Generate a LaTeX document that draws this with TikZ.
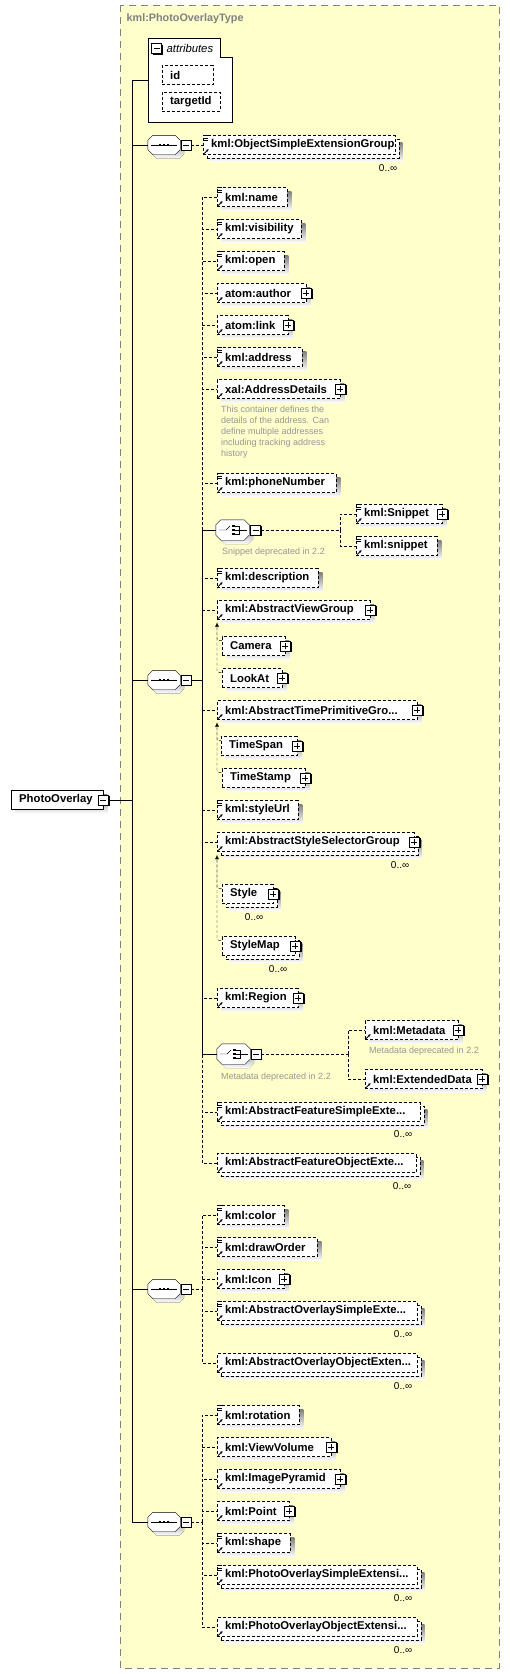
\documentclass[tikz,border=0pt]{standalone}
\usepackage{fontspec}
\setmainfont{Liberation Sans}
\usetikzlibrary{shadows,arrows.meta}
\pgfdeclarelayer{back}
\pgfdeclarelayer{shadowlayer}
\pgfsetlayers{back,shadowlayer,main}
\hyphenpenalty=10000
\exhyphenpenalty=10000
\definecolor{paper}{RGB}{255,255,204}
\definecolor{frame}{RGB}{128,128,128}
\definecolor{shade}{RGB}{192,192,192}
\definecolor{note}{RGB}{150,150,150}
\newcommand\octpath[1]{([xshift=5pt]#1.north west) -- ([xshift=-5pt]#1.north east) -- ([yshift=-5pt]#1.north east) -- ([yshift=5pt]#1.south east) -- ([xshift=-5pt]#1.south east) -- ([xshift=5pt]#1.south west) -- ([yshift=5pt]#1.south west) -- ([yshift=-5pt]#1.north west) -- cycle}
\tikzset{
	odash/.style={dash pattern=on 3pt off 2pt},
	elem/.style={draw, odash, fill=white, anchor=west, minimum height=19pt,
		text width=#1-16pt, inner xsep=8pt, inner ysep=2pt, align=left,
		font=\bfseries\fontsize{11.3}{13}\selectfont},
	multi/.style={elem=#1,
		general shadow={shadow xshift=3.5pt, shadow yshift=-3.5pt, fill=white, draw=black, odash}},
	minusbox/.style={draw, solid, fill=white, minimum size=10pt, inner sep=0pt,
		drop shadow={shadow xshift=1.2pt, shadow yshift=-1.2pt, fill=black, opacity=1},
		path picture={\draw ([xshift=2pt]path picture bounding box.west) -- ([xshift=-2pt]path picture bounding box.east);}},
	plusbox/.style={draw, solid, fill=white, minimum size=10pt, inner sep=0pt,
		drop shadow={shadow xshift=1.2pt, shadow yshift=-1.2pt, fill=black, opacity=1},
		path picture={\draw ([xshift=2pt]path picture bounding box.west) -- ([xshift=-2pt]path picture bounding box.east);
			\draw ([yshift=2pt]path picture bounding box.south) -- ([yshift=-2pt]path picture bounding box.north);}},
	compositor/.style={minimum width=32pt, minimum height=19pt, inner sep=0pt},
	occ/.style={anchor=east, inner sep=0pt, font=\fontsize{10}{12}\selectfont},
	note/.style={inner sep=0pt, text=note, font=\fontsize{9}{11}\selectfont}
}
\begin{document}
\begin{tikzpicture}[x=1pt, y=-1pt, line width=0.9pt]
	\useasboundingbox (0,0) rectangle (510,1674);
	% complex type frame
	\begin{pgfonlayer}{back}
		\draw[frame, line width=1pt, dash pattern=on 7pt off 5pt, fill=paper] (120,5) rectangle (499,1668);
	\end{pgfonlayer}
	\node[anchor=west, inner sep=0pt, text=frame, font=\bfseries\fontsize{10.8}{13}\selectfont] (ttl) at (126.5,19) {kml:PhotoOverlayType};

	% attributes
	\draw[fill=white] (148,38) -- (220.5,38) -- (220.5,57) -- (232,57) -- (232,122) -- (148,122) -- cycle;
	\node[minusbox] (atm) at (156.5,48.5) {};
	\node[anchor=west, inner sep=0pt, font=\itshape\fontsize{11.3}{13}\selectfont] (atl) at (166.5,48.5) {attributes};
	\node[elem=51] (aid) at (162,75) {id};
	\node[elem=58] (atg) at (162,101.7) {targetId};
	\coordinate (attr) at (148,80);

	% root element
	\node[elem=92, solid] (po) at (11,800) {PhotoOverlay};
	\node[minusbox] (pom) at (po.east) {};
	\coordinate (tr) at (132.5,800);

	% sequences and choices
	\node[compositor] (sq1) at (164,145) {};
	\node[compositor] (sq2) at (164,680) {};
	\node[compositor] (sq3) at (164,1289) {};
	\node[compositor] (sq4) at (164,1522) {};
	\node[compositor, minimum width=33pt, minimum height=20pt] (ch1) at (232.5,530) {};
	\node[compositor, minimum width=33pt, minimum height=20pt] (ch2) at (233.5,1054) {};
	\foreach \s in {sq1,sq2,sq3,sq4,ch1,ch2} {
		\fill[shade, transform canvas={shift={(4pt,-4pt)}}] \octpath{\s};
		\draw[fill=white] \octpath{\s};
	}
	\node[minusbox] (sq1m) at (186,145) {};
	\node[minusbox] (sq2m) at (186,680) {};
	\node[minusbox] (sq3m) at (186,1289) {};
	\node[minusbox] (sq4m) at (186,1522) {};
	\node[minusbox] (ch1m) at (255.5,530) {};
	\node[minusbox] (ch2m) at (256,1054) {};
	\foreach \s in {sq1,sq2,sq3,sq4} {
		\draw ([xshift=3pt]\s.west) -- ([xshift=-3pt]\s.east);
		\foreach \d in {-4,0,4}
			\fill ([xshift=\d pt]\s.center) +(-1.3pt,-1.3pt) rectangle +(1.3pt,1.3pt);
	}
	\foreach \c in {ch1,ch2} {
		\draw ([xshift=-13.5pt]\c.center) -- ++(7pt,0pt) -- ++(4pt,4pt);
		\foreach \k in {-4,0,4}
			\fill ([shift={(1pt,\k pt)}]\c.center) +(-1.2pt,-1.2pt) rectangle +(1.2pt,1.2pt);
		\draw ([shift={(2.5pt,4pt)}]\c.center) -| ([shift={(6.8pt,-4pt)}]\c.center) -- ++(-4.3pt,0pt);
		\draw ([xshift=2.5pt]\c.center) -- ([xshift=14pt]\c.center);
	}

	% first sequence
	\node[multi=192] (o1) at (203,145) {kml:ObjectSimpleExtensionGroup};

	% second sequence
	\node[elem=70] (e1) at (217,197) {kml:name};
	\node[elem=84] (e2) at (217,229) {kml:visibility};
	\node[elem=67] (e3) at (217,261) {kml:open};
	\node[elem=89] (e4) at (217,293) {atom:author};
	\node[elem=71] (e5) at (217,325) {atom:link};
	\node[elem=85] (e6) at (217,357) {kml:address};
	\node[elem=123] (e7) at (217,389) {xal:AddressDetails};
	\node[note, anchor=north west, align=left] (e7c) at (221,405.5) {This container defines the\\details of the address. Can\\define multiple addresses\\including tracking address\\history};
	\node[elem=119] (e8) at (217,483) {kml:phoneNumber};
	\node[elem=86] (sn1) at (356,514) {kml:Snippet};
	\node[elem=81] (sn2) at (356,546) {kml:snippet};
	\node[note, anchor=west] (ch1c) at (222,552) {Snippet deprecated in 2.2};
	\node[elem=101] (e9) at (217,578) {kml:description};
	\node[elem=153] (e10) at (217,610) {kml:AbstractViewGroup};
	\node[elem=63] (s1) at (222,646) {Camera};
	\node[elem=60] (s2) at (222,678) {LookAt};
	\node[elem=200] (e11) at (217,710) {kml:AbstractTimePrimitiveGro...};
	\node[elem=76] (s3) at (221,746) {TimeSpan};
	\node[elem=83] (s4) at (222,778) {TimeStamp};
	\node[elem=81] (e12) at (217,810) {kml:styleUrl};
	\node[multi=197] (e13) at (217,842) {kml:AbstractStyleSelectorGroup};
	\node[multi=51] (s5) at (222,894) {Style};
	\node[multi=73] (s6) at (222,946) {StyleMap};
	\node[elem=81] (e14) at (217,998) {kml:Region};
	\node[elem=93] (md1) at (365,1030) {kml:Metadata};
	\node[note, anchor=west] (md1c) at (369,1051) {Metadata deprecated in 2.2};
	\node[elem=117] (md2) at (365,1079) {kml:ExtendedData};
	\node[note, anchor=west] (ch2c) at (221,1077) {Metadata deprecated in 2.2};
	\node[multi=203] (e15) at (217,1112) {kml:AbstractFeatureSimpleExte...};
	\node[multi=199] (e16) at (217,1163) {kml:AbstractFeatureObjectExte...};

	% third sequence
	\node[elem=67] (f1) at (217,1215) {kml:color};
	\node[elem=100] (f2) at (217,1247) {kml:drawOrder};
	\node[elem=67] (f3) at (217,1279) {kml:Icon};
	\node[multi=200] (f4) at (217,1311) {kml:AbstractOverlaySimpleExte...};
	\node[multi=200] (f5) at (217,1363) {kml:AbstractOverlayObjectExten...};

	% fourth sequence
	\node[elem=82] (g1) at (217,1415) {kml:rotation};
	\node[elem=114] (g2) at (217,1447) {kml:ViewVolume};
	\node[elem=123] (g3) at (217,1479) {kml:ImagePyramid};
	\node[elem=72] (g4) at (217,1511) {kml:Point};
	\node[elem=73] (g5) at (217,1543) {kml:shape};
	\node[multi=200] (g6) at (217,1575) {kml:PhotoOverlaySimpleExtensi...};
	\node[multi=200] (g7) at (217,1627) {kml:PhotoOverlayObjectExtensi...};

	% shadows
	\begin{pgfonlayer}{shadowlayer}
		\foreach \n in {aid,atg,po,e1,e2,e3,e4,e5,e6,e7,e8,sn1,sn2,e9,e10,s1,s2,e11,s3,s4,e12,e14,md1,md2,f1,f2,f3,g1,g2,g3,g4,g5}
			\fill[shade] ([shift={(4pt,-4pt)}]\n.south west) rectangle ([shift={(4pt,-4pt)}]\n.north east);
		\foreach \n in {o1,e13,s5,s6,e15,e16,f4,f5,g6,g7}
			\fill[shade] ([shift={(7pt,-7pt)}]\n.south west) rectangle ([shift={(7pt,-7pt)}]\n.north east);
	\end{pgfonlayer}

	% occurrences
	\node[occ] (o1n) at ([xshift=2pt,yshift=-23pt]o1.east) {0..∞};
	\node[occ] (e13n) at ([xshift=-5pt,yshift=-23pt]e13.east) {0..∞};
	\node[occ] (s5n) at ([xshift=-10pt,yshift=-23pt]s5.east) {0..∞};
	\node[occ] (s6n) at ([xshift=-8pt,yshift=-23pt]s6.east) {0..∞};
	\node[occ] (e15n) at ([xshift=-8pt,yshift=-22pt]e15.east) {0..∞};
	\foreach \n in {e16,f4,f5,g6,g7}
		\node[occ] (\n n) at ([xshift=-5pt,yshift=-23pt]\n.east) {0..∞};

	% icons
	\foreach \n in {e4,e5,e7,sn1,e10,s1,s2,e11,s3,s4,e13,s5,s6,e14,md1,md2,f3,g2,g3,g4}
		\node[plusbox] (\n-p) at (\n.east) {};
	\foreach \n in {o1,e1,e2,e3,e6,e8,sn1,sn2,e9,e12,e15,f1,f2,f4,g1,g5,g6}
		\foreach \k in {0.5,2.7,4.9}
			\draw[solid, line width=0.8pt] ([yshift=-\k pt]\n.north west) -- ++(5pt,0pt);
	\foreach \n in {o1,e1,e2,e3,e4,e5,e6,e7,e8,sn1,sn2,e9,e10,e11,e12,e13,e14,md1,md2,e15,e16,f1,f2,f3,f4,f5,g1,g2,g3,g4,g5,g6,g7}
		\draw[solid, line width=0.9pt, -{Latex[length=2.6pt,width=2.6pt]}] ([shift={(1.2pt,1.2pt)}]\n.south west) -- ++(4.5pt,4.5pt);

	% trunk
	\draw (pom.east) -- (tr);
	\draw (tr) |- (attr);
	\foreach \s in {sq1,sq2,sq3,sq4}
		\draw (tr) |- (\s.west);

	% sequence connectors
	\draw[odash] (sq1m.east) -- (o1.west);
	\coordinate (b2) at (202,680);
	\coordinate (b3) at (202,1289);
	\coordinate (b4) at (202,1522);
	\draw (sq2m.east) -- (b2);
	\draw (b2) |- (ch1.west);
	\draw (b2) |- (ch2.west);
	\foreach \n in {e1,e2,e3,e4,e5,e6,e7,e8,e9,e10,e11,e12,e13,e14,e15,e16}
		\draw[odash] (b2) |- (\n.west);
	\draw[odash] (sq3m.east) -- (b3);
	\foreach \n in {f1,f2,f3,f4,f5}
		\draw[odash] (b3) |- (\n.west);
	\draw[odash] (sq4m.east) -- (b4);
	\foreach \n in {g1,g2,g3,g4,g5,g6,g7}
		\draw[odash] (b4) |- (\n.west);

	% choice connectors
	\coordinate (c1) at (340,530);
	\coordinate (c2) at (348,1054);
	\draw[odash] (ch1m.east) -- (c1);
	\draw[odash] (c1) |- (sn1.west);
	\draw[odash] (c1) |- (sn2.west);
	\draw[odash] (ch2m.east) -- (c2);
	\draw[odash] (c2) |- (md1.west);
	\draw[odash] (c2) |- (md2.west);

	% substitution groups
	\draw[odash, rounded corners=2pt, {Latex[length=4pt,width=4pt]}-] ([yshift=-3pt]e10.south west) |- ([yshift=-4pt]s1.north west);
	\draw[odash, rounded corners=2pt] ([yshift=-3pt]e10.south west) |- ([yshift=-4pt]s2.north west);
	\draw[odash, rounded corners=2pt, {Latex[length=4pt,width=4pt]}-] ([yshift=-3pt]e11.south west) |- ([yshift=-4pt]s3.north west);
	\draw[odash, rounded corners=2pt] ([yshift=-3pt]e11.south west) |- ([yshift=-4pt]s4.north west);
	\draw[odash, rounded corners=2pt, {Latex[length=4pt,width=4pt]}-] ([yshift=-3.5pt]e13.south west) |- ([yshift=-4pt]s5.north west);
	\draw[odash, rounded corners=2pt] ([yshift=-3.5pt]e13.south west) |- ([yshift=-4pt]s6.north west);
\end{tikzpicture}
\end{document}
